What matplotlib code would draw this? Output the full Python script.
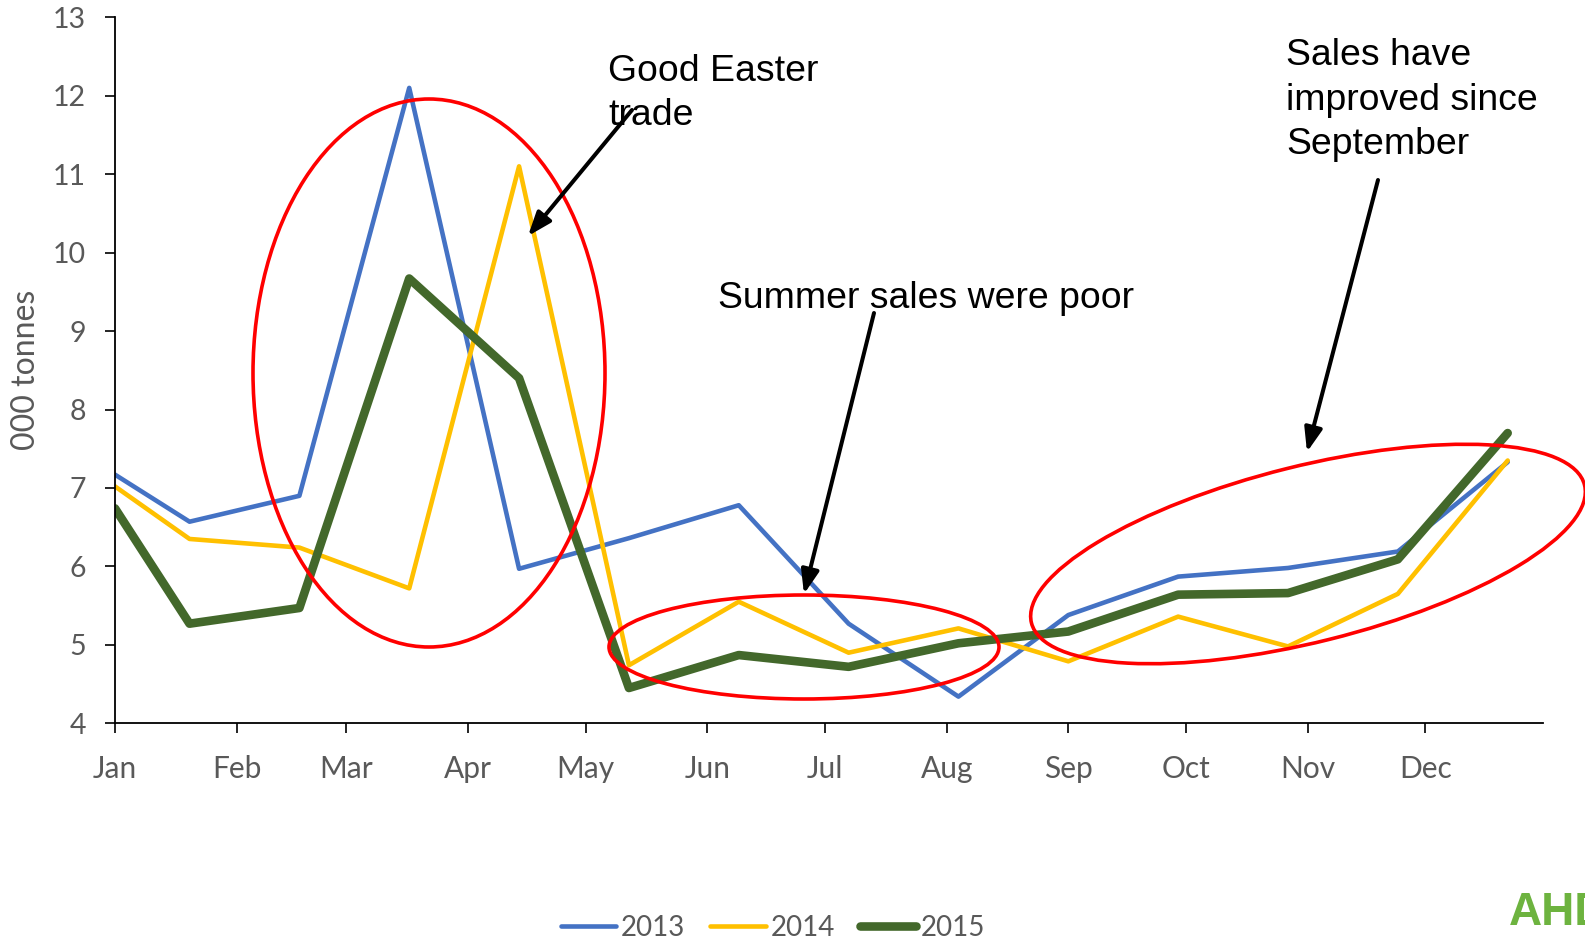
import matplotlib
matplotlib.use("Agg")
import matplotlib.pyplot as plt
import matplotlib.patches as mpatches
import matplotlib.dates as mdates
from matplotlib.transforms import Affine2D
import numpy as np

# four-weekly periods
periods = ["2015-01-01", "2015-01-20", "2015-02-17", "2015-03-17", "2015-04-14",
           "2015-05-12", "2015-06-09", "2015-07-07", "2015-08-04", "2015-09-01",
           "2015-09-29", "2015-10-27", "2015-11-24", "2015-12-22"]
sales_2013 = [7.17, 6.57, 6.90, 12.10, 5.97, 6.36, 6.78, 5.27, 4.34, 5.38, 5.87, 5.98, 6.19, 7.33]
sales_2014 = [7.02, 6.35, 6.24, 5.72, 11.10, 4.74, 5.55, 4.90, 5.21, 4.79, 5.36, 4.98, 5.65, 7.35]
sales_2015 = [6.74, 5.27, 5.47, 9.67, 8.40, 4.45, 4.87, 4.72, 5.02, 5.17, 5.64, 5.66, 6.09, 7.70]

W, H = 1585, 939
GREY = "#595959"

fig = plt.figure(figsize=(W / 100, H / 100), dpi=100)
ax = fig.add_axes([115 / W, 1 - 723.3 / H, (1543 - 115) / W, (723.3 - 17.3) / H])

x = np.array(periods, dtype="datetime64[D]")
ax.plot(x, sales_2013, color="#4472C4", lw=3.3, solid_joinstyle="round", solid_capstyle="round", label="2013")
ax.plot(x, sales_2014, color="#FFC000", lw=3.3, solid_joinstyle="round", solid_capstyle="round", label="2014")
ax.plot(x, sales_2015, color="#43682B", lw=6.2, solid_joinstyle="round", solid_capstyle="round", label="2015")

ax.set_xlim(np.datetime64("2015-01-01"), np.datetime64("2015-12-31"))
ax.set_ylim(4, 13)
ax.set_yticks(range(4, 14))
ax.xaxis.set_major_locator(mdates.MonthLocator())
ax.xaxis.set_major_formatter(mdates.DateFormatter("%b"))

for s in ["top", "right"]:
    ax.spines[s].set_visible(False)
for s in ["left", "bottom"]:
    ax.spines[s].set_linewidth(1.3)
ax.tick_params(axis="y", length=7, width=1.2, pad=14, labelsize=20.5, labelcolor=GREY)
ax.tick_params(axis="x", length=7, width=1.2, pad=15.5, labelsize=21.5, labelcolor=GREY)
for lab in ax.get_xticklabels() + ax.get_yticklabels():
    lab.set_fontfamily("Lato")

ax.set_ylabel("000 tonnes", fontsize=23, color=GREY, family="Lato", va="center")
ax.yaxis.set_label_coords((26 - 115) / (1543 - 115), 0.5)

leg = fig.legend(loc="center", bbox_to_anchor=(773 / W, 1 - 928 / H), ncol=3, frameon=False,
                 handlelength=2.0, handletextpad=0.18, columnspacing=0.9,
                 prop={"family": "Lato", "size": 20})
for t in leg.get_texts():
    t.set_color(GREY)

# annotations placed in pixel coords (origin top-left)
pix = Affine2D().scale(1 / W, -1 / H).translate(0, 1) + fig.transFigure

ellipses = [((429, 373), 352, 548, 0), ((804, 647), 390, 104, 0), ((1308, 554), 570, 176, -14)]
for c, w, h, ang in ellipses:
    fig.add_artist(mpatches.Ellipse(c, w, h, angle=ang, fill=False, ec="#FF0000", lw=2.6, transform=pix))

arrows = [((632, 110), (528, 236)), ((874, 313), (804, 594)), ((1378, 180), (1307, 452))]
for a, b in arrows:
    fig.add_artist(mpatches.FancyArrowPatch(a, b, arrowstyle="-|>,head_length=0.8,head_width=0.3",
                                            mutation_scale=18, lw=2.9, color="black",
                                            shrinkA=0, shrinkB=0, transform=pix))

notes = [(608, 80.7, ["Good Easter", "trade"]),
         (718, 308, ["Summer sales were poor"]),
         (1286, 65, ["Sales have", "improved since", "September"])]
for tx, ty, lines in notes:
    for i, line in enumerate(lines):
        fig.text(tx / W, 1 - (ty + i * 44.5) / H, line, fontsize=26.9, family="Liberation Sans",
                 va="baseline", ha="left", color="black")

fig.text(1509 / W, 1 - 925 / H, "AHDB", fontsize=33, family="Liberation Sans", weight="bold",
         color="#6DB33F", va="baseline", ha="left")

fig.savefig("out.png", dpi=100)
